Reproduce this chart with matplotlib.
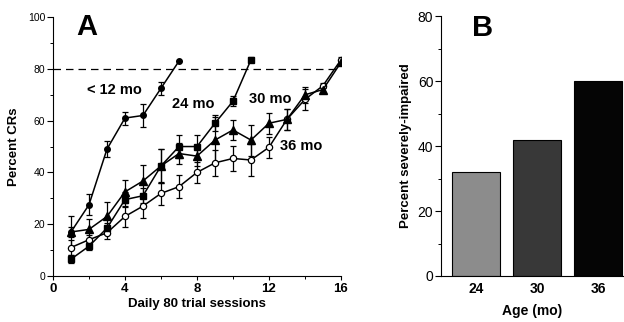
import numpy as np
import matplotlib
matplotlib.use("Agg")
import matplotlib.pyplot as plt
from matplotlib.ticker import MultipleLocator

plt.rcParams['font.family'] = ['Liberation Sans', 'DejaVu Sans']

# ── Panel A: learning curves ──────────────────────────────────
sessions_12 = [1, 2, 3, 4, 5, 6, 7]
pct_12 = [17, 27.5, 49, 61, 62, 72.5, 83]
err_12 = [2, 4, 3, 2.5, 4.5, 2.5, 0]

sessions_24 = [1, 2, 3, 4, 5, 6, 7, 8, 9, 10, 11]
pct_24 = [6.5, 11.5, 18.5, 29.5, 31, 42.5, 50, 50, 59, 67.5, 83.5]
err_24 = [1.5, 1.5, 2, 3, 3, 6.5, 4.5, 4.5, 3, 2, 1]

sessions_30 = list(range(1, 17))
pct_30 = [17, 18, 23, 32.5, 36.7, 42.5, 47.3, 46.3, 52.5, 56.4, 52.5, 59, 60.5, 70, 72, 82.5]
err_30 = [6, 4, 5.5, 4.5, 6, 6.5, 4, 4, 9, 4, 6, 4, 4, 3, 1, 1]

sessions_36 = list(range(1, 17))
pct_36 = [11, 14, 16.7, 23, 27, 31.9, 34.5, 40, 43.7, 45.4, 44.8, 49.7, 60.5, 68.2, 73.5, 83.5]
err_36 = [3, 2, 2.5, 4, 4.5, 4.5, 4.5, 4, 5, 5, 6, 4, 4, 4, 1, 1]

criterion = 80

# ── Panel B: severely impaired ────────────────────────────────
ages = ["24", "30", "36"]
pct_impaired = [32, 42, 60]
bar_colors = ["#8c8c8c", "#383838", "#050505"]

fig = plt.figure(figsize=(6.24, 3.22), dpi=100, facecolor="white")

# ── A ──
ax = fig.add_axes([0.0849, 0.1429, 0.4615, 0.804])
common = dict(color="black", lw=1.1, capsize=2, elinewidth=0.9, capthick=0.9)
ax.errorbar(sessions_36, pct_36, yerr=err_36, marker="o", ms=4.5,
            mfc="white", mec="black", mew=0.9, **common)
ax.errorbar(sessions_30, pct_30, yerr=err_30, marker="^", ms=5.5,
            mfc="black", mec="black", **common)
ax.errorbar(sessions_24, pct_24, yerr=err_24, marker="s", ms=4.5,
            mfc="black", mec="black", **common)
ax.errorbar(sessions_12, pct_12, yerr=err_12, marker="o", ms=4,
            mfc="black", mec="black", **common)
ax.axhline(criterion, color="black", lw=0.9, ls=(0, (6, 4)), zorder=0)

ax.text(1.9, 72, "< 12 mo", fontsize=10.5, fontweight="bold", va="center")
ax.text(6.6, 66.4, "24 mo", fontsize=10.5, fontweight="bold", va="center")
ax.text(10.9, 68.3, "30 mo", fontsize=10.5, fontweight="bold", va="center")
ax.text(12.6, 50.2, "36 mo", fontsize=10.5, fontweight="bold", va="center")
ax.text(1.3, 96, "A", fontsize=21, fontweight="bold", va="center")

ax.set_xlim(0, 16)
ax.set_ylim(0, 100)
ax.xaxis.set_major_locator(MultipleLocator(4))
ax.xaxis.set_minor_locator(MultipleLocator(2))
ax.yaxis.set_major_locator(MultipleLocator(20))
ax.yaxis.set_minor_locator(MultipleLocator(10))
for s in ("top", "right"):
    ax.spines[s].set_visible(False)
ax.tick_params(axis="y", which="major", length=4, width=0.8, labelsize=7.5, pad=1.5)
ax.tick_params(axis="y", which="minor", length=2, width=0.7)
ax.tick_params(axis="x", which="major", length=3, width=0.8, labelsize=9.5, pad=2)
ax.tick_params(axis="x", which="minor", length=2, width=0.7)
for lbl in ax.get_xticklabels():
    lbl.set_fontweight("bold")
ax.set_xlabel("Daily 80 trial sessions", fontsize=9.5, fontweight="bold", labelpad=2)
ax.set_ylabel("Percent CRs", fontsize=9.5, fontweight="bold", labelpad=6)

# ── B ──
bx = fig.add_axes([0.7067, 0.1429, 0.2933, 0.807])
pos = np.arange(len(ages))
bx.bar(pos, pct_impaired, width=0.79, color=bar_colors, edgecolor="black", linewidth=0.8)
bx.text(-0.06, 76.5, "B", fontsize=21, fontweight="bold", va="center")
bx.set_xlim(-0.57, 2.42)
bx.set_ylim(0, 80)
bx.set_xticks(pos)
bx.set_xticklabels(ages, fontsize=10, fontweight="bold")
bx.yaxis.set_major_locator(MultipleLocator(20))
bx.yaxis.set_minor_locator(MultipleLocator(10))
for s in ("top", "right"):
    bx.spines[s].set_visible(False)
bx.tick_params(axis="x", length=0, pad=4)
bx.tick_params(axis="y", which="major", length=4, width=0.8, labelsize=10, pad=1.5)
bx.tick_params(axis="y", which="minor", length=2, width=0.7)
bx.set_xlabel("Age (mo)", fontsize=10, fontweight="bold", labelpad=6)
bx.set_ylabel("Percent severely-impaired", fontsize=9.5, fontweight="bold", labelpad=4)

fig.savefig("out.png", dpi=100)
